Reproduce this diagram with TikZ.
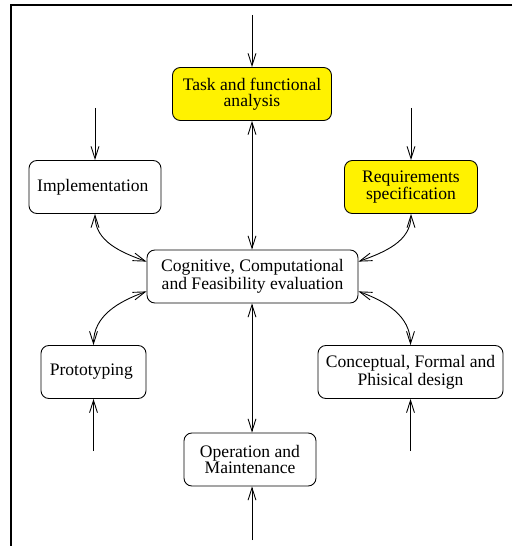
\documentclass[tikz,border=0pt]{standalone}
\usepackage{fontspec}
\setmainfont{Liberation Serif}
\usepackage{xcolor}
\usepackage{tikz}
\usetikzlibrary{arrows.meta}

\begin{document}
\begin{tikzpicture}[
  >={Straight Barb[length=7pt, width=4.5pt]},
  box/.style={draw, rectangle, rounded corners=4.5pt, align=center,
              minimum height=1.06cm, inner sep=2pt, line width=0.5pt,
              font=\fontsize{10}{8.8}\selectfont},
  boxY/.style={box, fill=yellow},
  imp/.style={->, line width=0.5pt},
  both/.style={<->, line width=0.5pt}
]

\useasboundingbox (0, 0) rectangle (10.24, -10.92);

%% ---- frame ----
\draw[line width=1.1pt] (10.24, -0.1) -| (0.22, -10.92);

%% ---- nodes ----
\node[boxY, minimum width=3.18cm] (task) at (5.04, -1.88) {
  Task and functional\\analysis
};
\node[box, minimum width=2.64cm] (impl) at (1.9, -3.74) {
  Implementation
};
\node[boxY, minimum width=2.66cm] (req) at (8.22, -3.74) {
  Requirements\\specification
};
\node[box, minimum width=4.22cm] (eval) at (5.05, -5.53) {
  Cognitive, Computational\\and Feasibility evaluation
};
\node[box, minimum width=2.1cm] (proto) at (1.87, -7.44) {
  Prototyping
};
\node[box, minimum width=3.7cm] (design) at (8.21, -7.44) {
  Conceptual, Formal and\\Phisical design
};
\node[box, minimum width=2.64cm] (oper) at (5.0, -9.19) {
  Operation and\\Maintenance
};

%% ---- free ends of the incoming arrows ----
\coordinate (taskin) at (5.04, -0.3);
\coordinate (implin) at (1.9, -2.16);
\coordinate (reqin) at (8.22, -2.16);
\coordinate (protoin) at (1.87, -9.02);
\coordinate (designin) at (8.21, -9.02);
\coordinate (operin) at (5.04, -10.8);

%% ---- incoming arrows ----
\draw[imp] (taskin) -- (task);
\draw[imp] (implin) -- (impl);
\draw[imp] (reqin) -- (req);
\draw[imp] (protoin) -- (proto);
\draw[imp] (designin) -- (design);
\draw[imp] (operin) -- (oper.south -| operin);

%% ---- links to the evaluation box ----
\draw[both] (task.south -| taskin) -- (eval.north -| taskin);
\draw[both] (eval.south -| operin) -- (oper.north -| operin);

\draw[both] (impl.south) to[out=-90, in=160] (eval.172);
\draw[both] (req.south) to[out=-90, in=20] (eval.8);
\draw[both] (proto.north) to[out=90, in=200] (eval.188);
\draw[both] (design.north) to[out=90, in=-20] (eval.352);

\end{tikzpicture}
\end{document}
